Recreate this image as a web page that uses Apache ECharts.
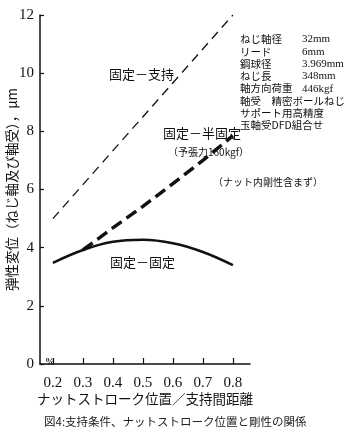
<!DOCTYPE html>
<html>
<head>
<meta charset="utf-8">
<script src="https://cdn.jsdelivr.net/npm/echarts@6/dist/echarts.min.js"></script>
<style>
  html, body { margin: 0; padding: 0; background: #fff; }
  #main { width: 352px; height: 441px; }
</style>
</head>
<body>
<div id="main"></div>
<script>
// 目盛
var xTicks = [0.2, 0.3, 0.4, 0.5, 0.6, 0.7, 0.8];
// 固定－支持
var supportX = [0.2, 0.8];
var supportY = [5.0, 12.0];
// 固定－半固定
var halfX = [0.3, 0.4, 0.5, 0.6, 0.7, 0.8];
var halfY = [3.92, 4.68, 5.42, 6.2, 7.0, 7.85];
// 固定－固定
var fixedX = [0.2, 0.3, 0.4, 0.5, 0.6, 0.7, 0.8];
var fixedY = [3.48, 3.92, 4.2, 4.27, 4.15, 3.85, 3.4];
// 仕様
var specNames = ['ねじ軸径', 'リード', '鋼球径', 'ねじ長', '軸方向荷重', '軸受　精密ボールねじ', 'サポート用高精度', '玉軸受DFD組合せ'];
var specValues = ['32mm', '6mm', '3.969mm', '348mm', '446kgf', '', '', ''];

function pairs(xs, ys) {
    return xs.map(function (x, i) { return [x, ys[i]]; });
}

var jp = '"Noto Sans CJK JP", sans-serif';
var num = '"Liberation Serif", serif';

var myChart = echarts.init(document.getElementById('main'));

var graphics = [];
// 仕様表
specNames.forEach(function (n, i) {
    graphics.push({ type: 'text', left: 240, top: 34 + i * 12.3,
        style: { text: n, font: '10.5px ' + jp, fill: '#111' } });
    if (specValues[i]) {
        graphics.push({ type: 'text', left: 302, top: 34 + i * 12.3,
            style: { text: specValues[i], font: '11px ' + num, fill: '#111' } });
    }
});
// 曲線ラベル
graphics.push(
    { type: 'text', left: 109, top: 68, style: { text: '固定－支持', font: '13px ' + jp, fill: '#111' } },
    { type: 'text', left: 163, top: 127, style: { text: '固定－半固定', font: '13px ' + jp, fill: '#111' } },
    { type: 'text', left: 168, top: 147, style: { text: '（予張力160kgf）', font: '10px ' + jp, fill: '#111' } },
    { type: 'text', left: 213, top: 177, style: { text: '（ナット内剛性含まず）', font: '10px ' + jp, fill: '#111' } },
    { type: 'text', left: 110, top: 256, style: { text: '固定－固定', font: '13px ' + jp, fill: '#111' } },
    { type: 'text', left: 45, top: 357, style: { text: '%', font: 'bold 10px ' + num, fill: '#111' } },
    { type: 'text', left: 44, top: 416, style: { text: '図4:支持条件、ナットストローク位置と剛性の関係', font: '11.5px ' + jp, fill: '#222' } }
);

var option = {
    animation: false,
    backgroundColor: '#fff',
    grid: { left: 40, right: 102, top: 15, bottom: 77, outerBoundsMode: 'none', containLabel: false },
    xAxis: {
        type: 'value',
        min: 0.157,
        max: 0.857,
        name: 'ナットストローク位置／支持間距離',
        nameLocation: 'middle',
        nameGap: 28,
        nameMoveOverlap: false,
        nameTextStyle: { fontFamily: jp, fontSize: 13.5, color: '#111' },
        axisLine: { lineStyle: { color: '#111', width: 1.5 } },
        axisTick: { inside: true, length: 6, customValues: xTicks, lineStyle: { color: '#111', width: 1.2 } },
        axisLabel: { customValues: xTicks, margin: 12, fontFamily: num, fontSize: 15, color: '#111',
            formatter: function (v) { return v.toFixed(1); } },
        splitLine: { show: false }
    },
    yAxis: {
        type: 'value',
        min: 0,
        max: 12,
        interval: 2,
        name: '弾性変位（ねじ軸及び軸受），μm',
        nameLocation: 'middle',
        nameGap: 21,
        nameMoveOverlap: false,
        nameRotate: 90,
        nameTextStyle: { fontFamily: jp, fontSize: 13.5, color: '#111' },
        axisLine: { show: true, lineStyle: { color: '#111', width: 1.5 } },
        axisTick: { show: true, inside: true, length: 4, lineStyle: { color: '#111', width: 1.2 } },
        axisLabel: { margin: 6, fontFamily: num, fontSize: 15, color: '#111' },
        splitLine: { show: false }
    },
    series: [
        {
            name: '固定－支持', type: 'line', showSymbol: false,
            data: pairs(supportX, supportY),
            lineStyle: { color: '#111', width: 1.3, type: [9, 6] }
        },
        {
            name: '固定－半固定', type: 'line', showSymbol: false,
            data: pairs(halfX, halfY),
            lineStyle: { color: '#111', width: 3.5, type: [12, 6] }
        },
        {
            name: '固定－固定', type: 'line', showSymbol: false, smooth: 0.35,
            data: pairs(fixedX, fixedY),
            lineStyle: { color: '#111', width: 2.5 }
        }
    ],
    graphic: graphics
};
myChart.setOption(option);
</script>
</body>
</html>
